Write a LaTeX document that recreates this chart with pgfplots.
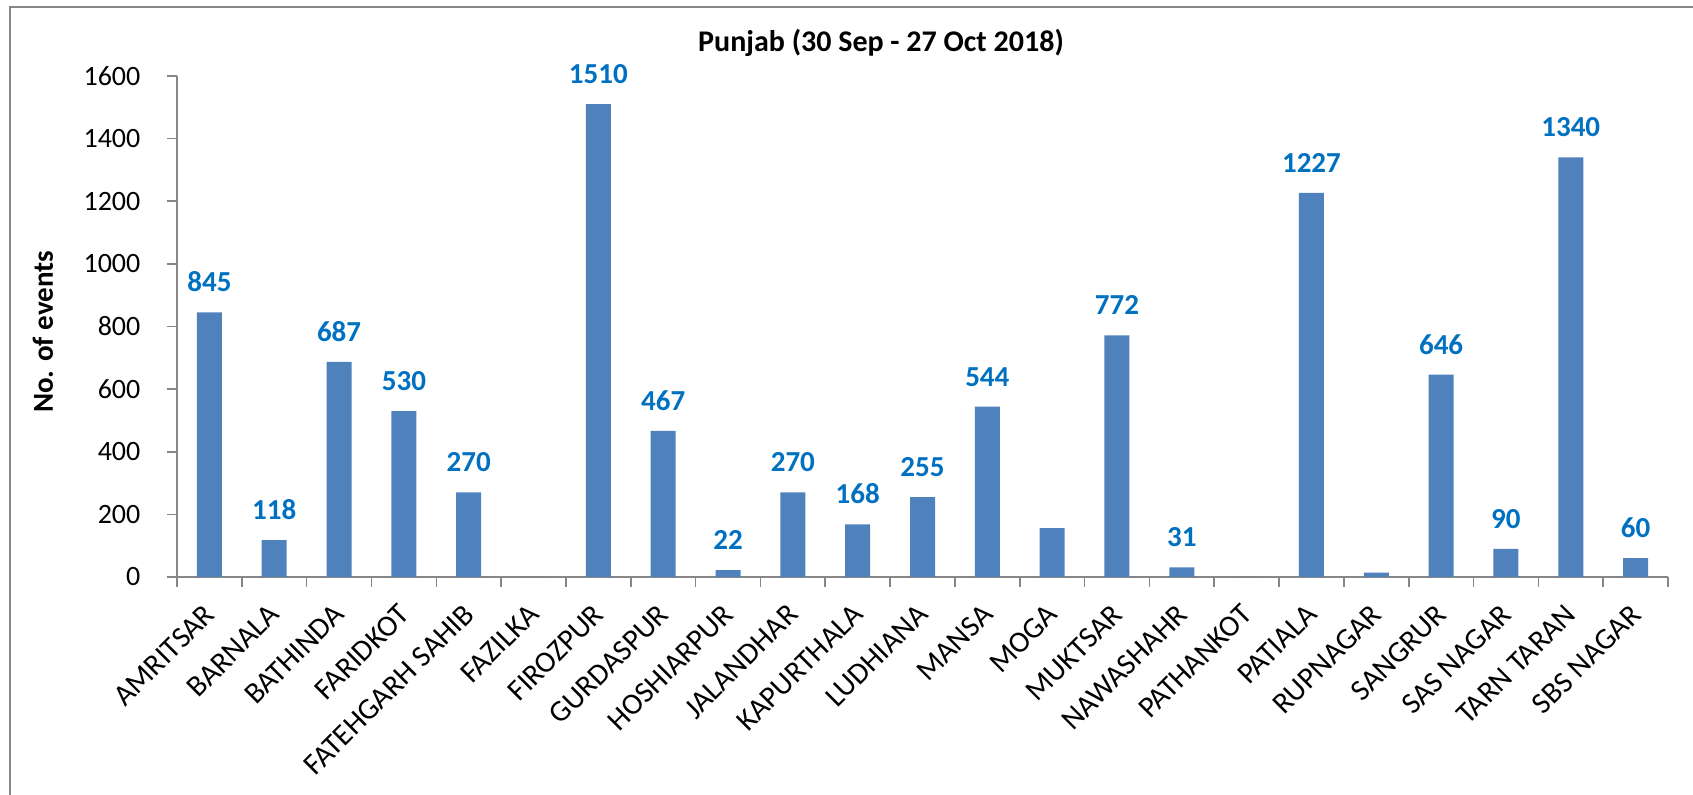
\documentclass[border=0pt]{standalone}
\usepackage{fontspec}
\setmainfont{Carlito}
\usepackage{pgfplots}
\pgfplotsset{compat=1.18}
\usepackage{pgfplotstable}

\definecolor{barblue}{HTML}{4F81BD}
\definecolor{lblblue}{HTML}{0070C0}
\definecolor{axgray}{HTML}{868686}

% district, events, label shown (empty = no label)
\pgfplotstableread{
x y lab
0 845 845
1 118 118
2 687 687
3 530 530
4 270 270
5 0 {}
6 1510 1510
7 467 467
8 22 22
9 270 270
10 168 168
11 255 255
12 544 544
13 156 {}
14 772 772
15 31 31
16 0 {}
17 1227 1227
18 14 {}
19 646 646
20 90 90
21 1340 1340
22 60 60
}\punjab

\begin{document}
\begin{tikzpicture}
\useasboundingbox (-88.5pt,-109pt) rectangle (758pt,288.5pt);
\draw[axgray, line width=0.8pt] (-83.5pt,-115pt) rectangle (765pt,285pt);
\begin{axis}[
    at={(0,0)}, anchor=south west,
    scale only axis, width=745.5pt, height=250.5pt,
    xmin=-0.5, xmax=22.5, ymin=0, ymax=1600,
    ytick={0,200,...,1600},
    xtick={-0.5,0.5,...,22.5},
    xticklabels={},
    extra x ticks={0,...,22},
    extra x tick labels={AMRITSAR,BARNALA,BATHINDA,FARIDKOT,FATEHGARH SAHIB,FAZILKA,FIROZPUR,GURDASPUR,HOSHIARPUR,JALANDHAR,KAPURTHALA,LUDHIANA,MANSA,MOGA,MUKTSAR,NAWASHAHR,PATHANKOT,PATIALA,RUPNAGAR,SANGRUR,SAS NAGAR,TARN TARAN,SBS NAGAR},
    extra x tick style={major tick length=0pt},
    axis x line*=bottom, axis y line*=left,
    axis line style={axgray, line width=1pt},
    tick align=outside,
    major tick style={axgray, line width=0.8pt},
    major tick length=5pt,
    /pgf/number format/assume math mode=true,
    /pgf/number format/1000 sep={},
    yticklabel style={font=\fontsize{14}{17}\selectfont, xshift=-9.8pt},
    xticklabel style={font=\fontsize{15}{18}\selectfont, rotate=45, anchor=north east, xshift=-8pt, yshift=-3.2pt},
    ybar, bar width=12.5pt,
    nodes near coords,
    point meta=explicit symbolic,
    every node near coord/.append style={lblblue, font=\bfseries\fontsize{14.5}{17}\selectfont, anchor=south, inner sep=0pt, yshift=10pt},
]
\addplot[fill=barblue, draw=none] table[x=x, y=y, meta=lab] {\punjab};
\end{axis}
\node[font=\bfseries\fontsize{15}{18}\selectfont] at (352pt,267pt) {Punjab (30 Sep - 27 Oct 2018)};
\node[font=\bfseries\fontsize{14.5}{17}\selectfont, rotate=90] at (-67pt,122.5pt) {No. of events};
\end{tikzpicture}
\end{document}
